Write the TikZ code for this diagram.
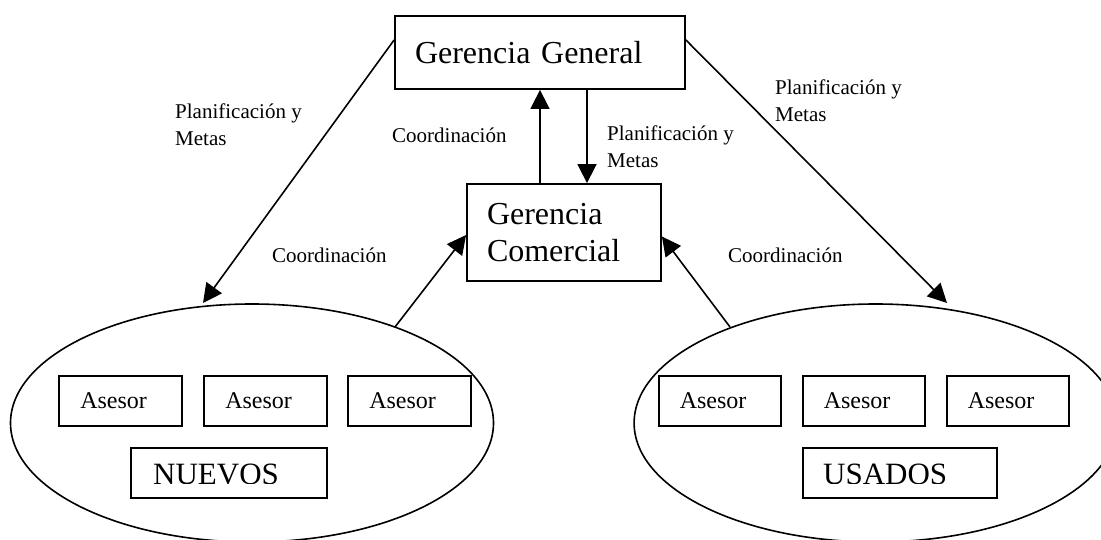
\documentclass[tikz,border=0pt]{standalone}
\usepackage{fontspec}
\setmainfont{Liberation Serif}
\usetikzlibrary{arrows.meta,shapes.geometric}
\begin{document}
\begin{tikzpicture}[x=1pt,y=-1pt,
  box/.style={draw, line width=1.8pt, rectangle, inner sep=0pt, align=left},
  big/.style={font=\fontsize{32}{37}\selectfont},
  ase/.style={box, minimum width=122.5pt, minimum height=50pt, text width=80.5pt, font=\fontsize{24}{28}\selectfont},
  grp/.style={box, minimum height=50pt},
  ell/.style={draw, ellipse, line width=1.6pt, inner sep=0pt},
  lab/.style={anchor=west, inner sep=0pt, align=left, font=\fontsize{21}{27}\selectfont},
  arr/.style={line width=1.6pt, -{Triangle[length=19pt,width=19pt]}}
]
\useasboundingbox (0,0) rectangle (1101,540);
\clip (0,0) rectangle (1101,540);
% groups
\node[ell, minimum width=483pt, minimum height=238pt] (ellL) at (252,423) {};
\node[ell, minimum width=483pt, minimum height=238pt] (ellR) at (875.6,423) {};
% managers
\node[box, big, minimum width=290pt, minimum height=73pt, text width=250pt] (gg) at (540,52.5) {Gerencia General};
\node[box, big, minimum width=194pt, minimum height=97pt, text width=154pt] (gc) at (564,232.5) {Gerencia\\Comercial};
% asesores
\node[ase] (a1) at (120.5,401) {Asesor};
\node[ase] (a2) at (265.5,401) {Asesor};
\node[ase] (a3) at (409.5,401) {Asesor};
\node[ase] (b1) at (720,401) {Asesor};
\node[ase] (b2) at (864,401) {Asesor};
\node[ase] (b3) at (1008,401) {Asesor};
% group labels
\node[grp, minimum width=195.5pt] (nuevos) at (229,473) {};
\node[grp, minimum width=194pt] (usados) at (900,473) {};
\begin{scope}
  \clip (0,440) rectangle (1101,483);
  \node[anchor=base west, inner sep=0pt, font=\fontsize{31}{36}\selectfont] (tn) at (153,484) {NUEVOS};
  \node[anchor=base west, inner sep=0pt, font=\fontsize{31}{36}\selectfont] (tu) at (823,484) {USADOS};
\end{scope}
% connector ends
\coordinate (tipL) at (203,303);
\coordinate (tipR) at (947,303);
\coordinate (tailL) at (395,327);
\coordinate (tailR) at (730,327);
\coordinate (dn) at ([xshift=47pt]gg.south);
% connectors
\draw[arr] ([yshift=12.5pt]gg.west) -- (tipL);
\draw[arr] ([yshift=12.5pt]gg.east) -- (tipR);
\draw[arr] (gg.south |- gc.north) -- (gg.south);
\draw[arr] (dn) -- (dn |- gc.north);
\draw[arr] (tailL) -- ([yshift=-2.5pt]gc.west);
\draw[arr] (tailR) -- ([yshift=-4pt]gc.east);
% labels
\node[lab] (l1) at (175,125) {Planificación y\\Metas};
\node[lab] (l2) at (775,101) {Planificación y\\Metas};
\node[lab] (l3) at (607,146.5) {Planificación y\\Metas};
\node[lab] (l4) at (392,135) {Coordinación};
\node[lab] (l5) at (272,255) {Coordinación};
\node[lab] (l6) at (728,255) {Coordinación};
\end{tikzpicture}
\end{document}
